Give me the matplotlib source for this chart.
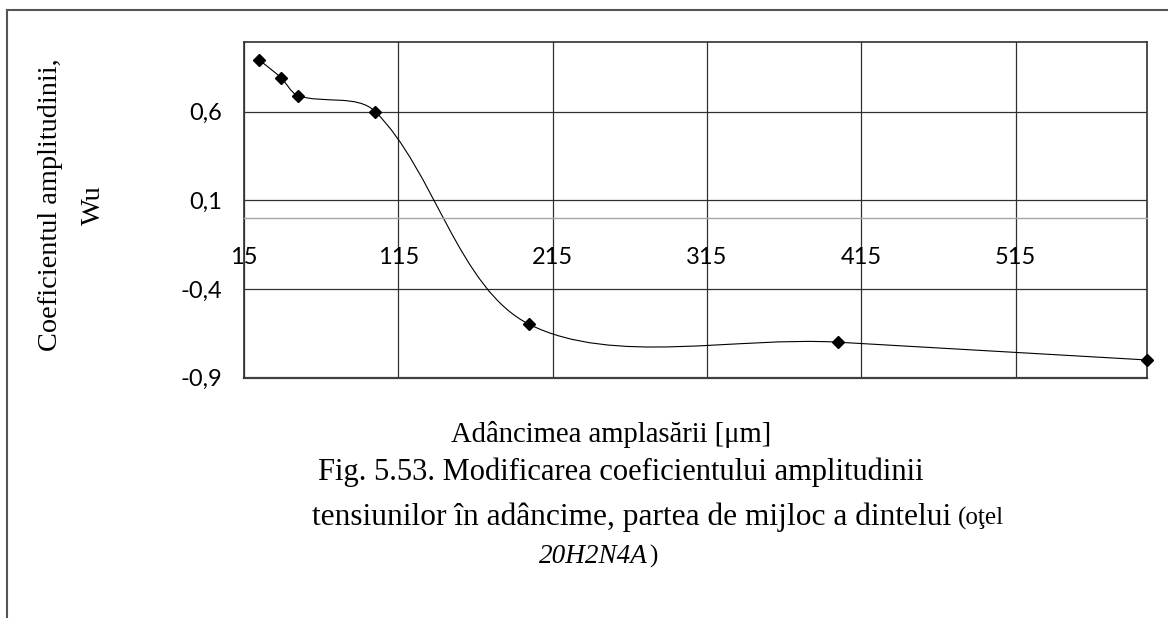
import numpy as np
import matplotlib
matplotlib.use("Agg")
from matplotlib import pyplot as plt
from matplotlib.path import Path
from matplotlib.patches import PathPatch
from matplotlib.lines import Line2D

plt.rcParams["font.family"] = ["Lato", "DejaVu Sans"]

# data
depth = [25, 39, 50, 100, 200, 400, 600]
wu = [0.89, 0.79, 0.69, 0.60, -0.60, -0.70, -0.80]

x_ticks = [15, 115, 215, 315, 415, 515]
y_ticks = [-0.9, -0.4, 0.1, 0.6]
y_labels = ["-0,9", "-0,4", "0,1", "0,6"]

W, H = 1168, 618
fig = plt.figure(figsize=(W / 100, H / 100), dpi=100)
ax = fig.add_axes([244 / W, 1 - 377.7 / H, (1146.7 - 244) / W, (377.7 - 42.3) / H])
ax.set_xlim(15, 600)
ax.set_ylim(-0.9, 0.99)

ax.set_xticks(x_ticks)
ax.set_yticks(y_ticks)
ax.set_yticklabels(y_labels)
ax.grid(True, color="#303030", lw=0.9)
ax.set_axisbelow(True)

ax.tick_params(axis="both", length=0, colors="black", labelsize=17)
ax.tick_params(axis="y", pad=16)
ax.tick_params(axis="x", pad=21)

# x axis sits at y = 0 like in Excel
ax.spines["bottom"].set_position(("data", 0))
ax.spines["bottom"].set_color("#a6a6a6")
ax.spines["bottom"].set_linewidth(1.0)
for s in ["top", "left", "right"]:
    ax.spines[s].set_color("#303030")
    ax.spines[s].set_linewidth(1.2)
ax.axhline(-0.9, color="#404040", lw=1.6, clip_on=False)


# Excel style smoothed line (bezier through the points, built in display space)
def smooth_path(ax, xs, ys, s=1 / 3):
    pts = ax.transData.transform(np.column_stack([xs, ys]))
    n = len(pts)
    verts = [pts[0]]
    codes = [Path.MOVETO]
    for i in range(n - 1):
        p0 = pts[i - 1] if i > 0 else pts[i]
        p1 = pts[i]
        p2 = pts[i + 1]
        p3 = pts[i + 2] if i + 2 < n else pts[i + 1]
        d01 = np.hypot(*(p1 - p0))
        d12 = np.hypot(*(p2 - p1))
        d23 = np.hypot(*(p3 - p2))
        c1 = p1 + (p2 - p0) * s * d12 / (d01 + d12)
        c2 = p2 - (p3 - p1) * s * d12 / (d12 + d23)
        verts += [c1, c2, p2]
        codes += [Path.CURVE4] * 3
    verts = ax.transData.inverted().transform(np.array(verts))
    return Path(verts, codes)


ax.add_patch(PathPatch(smooth_path(ax, depth, wu), fill=False, color="black", lw=0.8))
ax.plot(depth, wu, ls="none", marker="D", ms=6, color="black", clip_on=False, zorder=5)

serif = "Liberation Serif"
fig.text(72 / W, 1 - 205 / H, "Coeficientul amplitudinii,\nWu", rotation=90,
         ha="center", va="center", multialignment="center", family=serif,
         fontsize=20.4, linespacing=1.95)

fig.text(451 / W, 1 - 442 / H, "Adâncimea amplasării [μm]", family=serif,
         fontsize=20.6, ha="left", va="baseline")
fig.text(318 / W, 1 - 480 / H, "Fig. 5.53. Modificarea coeficientului amplitudinii",
         family=serif, fontsize=22, ha="left", va="baseline")
line2 = fig.text(312 / W, 1 - 525 / H, "tensiunilor în adâncime, partea de mijloc a dintelui",
                 family=serif, fontsize=22.6, ha="left", va="baseline")
line3 = fig.text(539 / W, 1 - 563 / H, "20H2N4A", family=serif, style="italic",
                 fontsize=19.5, ha="left", va="baseline")

# the smaller pieces follow right after the big ones
fig.canvas.draw()
r = fig.canvas.get_renderer()
x2 = line2.get_window_extent(r).x1
x3 = line3.get_window_extent(r).x1
fig.text(x2 / W + 7 / W, 1 - 525 / H, "(oţel", family=serif, fontsize=18,
         ha="left", va="baseline")
fig.text(x3 / W + 1 / W, 1 - 563 / H, ")", family=serif, fontsize=18,
         ha="left", va="baseline")

# page frame
fig.add_artist(Line2D([7 / W, 1], [1 - 10 / H, 1 - 10 / H], transform=fig.transFigure,
                      color="#555555", lw=1.5))
fig.add_artist(Line2D([7 / W, 7 / W], [0, 1 - 10 / H], transform=fig.transFigure,
                      color="#555555", lw=1.5))

fig.savefig("out.png", dpi=100)
